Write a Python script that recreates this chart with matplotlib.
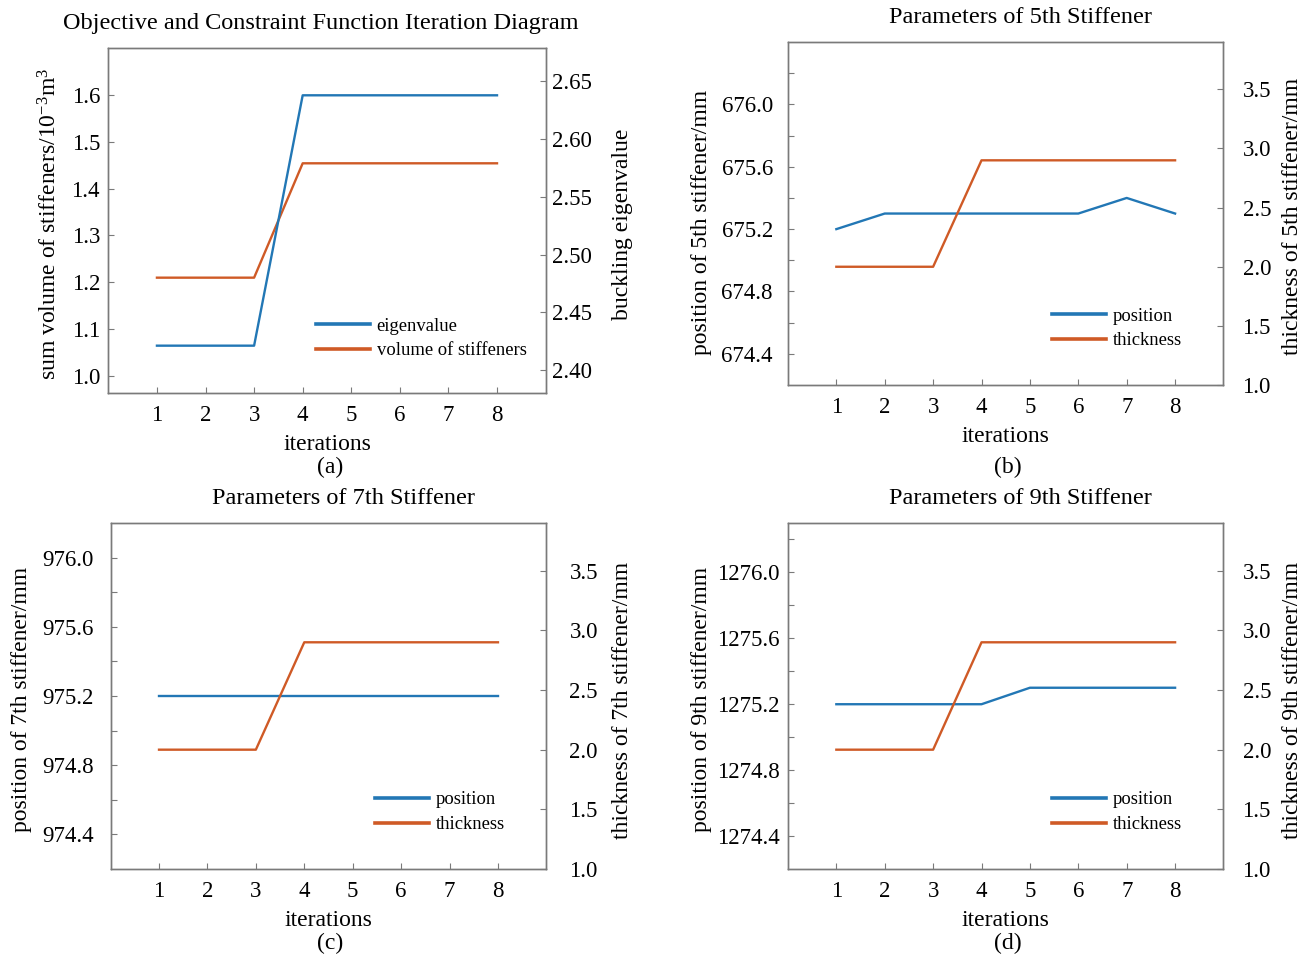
import matplotlib

matplotlib.use("Agg")
import matplotlib.pyplot as plt
from matplotlib.ticker import FixedLocator, FormatStrFormatter

plt.rcParams.update({
    "font.family": ["Liberation Serif", "DejaVu Serif"],
    "mathtext.fontset": "custom",
    "mathtext.rm": "Liberation Serif",
    "mathtext.it": "Liberation Serif:italic",
    "axes.unicode_minus": False,
})

# ---- data ----
iterations = [1, 2, 3, 4, 5, 6, 7, 8]

eigenvalue = [2.421, 2.421, 2.421, 2.638, 2.638, 2.638, 2.638, 2.638]
volume = [1.21, 1.21, 1.21, 1.454, 1.454, 1.454, 1.454, 1.454]

pos5 = [675.2, 675.3, 675.3, 675.3, 675.3, 675.3, 675.4, 675.3]
thick5 = [2.0, 2.0, 2.0, 2.9, 2.9, 2.9, 2.9, 2.9]

pos7 = [975.2, 975.2, 975.2, 975.2, 975.2, 975.2, 975.2, 975.2]
thick7 = [2.0, 2.0, 2.0, 2.9, 2.9, 2.9, 2.9, 2.9]

pos9 = [1275.2, 1275.2, 1275.2, 1275.2, 1275.3, 1275.3, 1275.3, 1275.3]
thick9 = [2.0, 2.0, 2.0, 2.9, 2.9, 2.9, 2.9, 2.9]

BLUE = "#2277b5"
ORANGE = "#cf5a26"
GRAY = "#7a7a7a"

TICK_FS = 16.5
LABEL_FS = 17
YLABEL_FS = 17
TITLE_FS = 17.5
LEG_FS = 13.4


def style_axes(ax, twin, lpad, rpad):
    for sp in list(ax.spines.values()) + list(twin.spines.values()):
        sp.set_color(GRAY)
        sp.set_linewidth(1.0)
    ax.tick_params(axis="both", which="both", direction="in", colors=GRAY,
                   labelcolor="black", labelsize=TICK_FS, length=4, width=0.8,
                   top=False, right=False)
    ax.tick_params(axis="x", pad=8.5)
    ax.tick_params(axis="y", pad=lpad)
    twin.tick_params(axis="y", which="both", direction="in", colors=GRAY,
                     labelcolor="black", labelsize=TICK_FS, length=4, width=0.8, pad=rpad)
    ax.set_xlim(0, 9)
    ax.set_xticks(iterations)
    ax.set_xlabel("iterations", fontsize=LABEL_FS, labelpad=6)


def add_legend(ax, handles, labels, x, y):
    leg = ax.legend(handles, labels, loc="center left", bbox_to_anchor=(x, y),
                    frameon=False, fontsize=LEG_FS, borderpad=0, borderaxespad=0,
                    handlelength=2.9, handletextpad=0.35, labelspacing=0.42)
    for line in leg.get_lines():
        line.set_linewidth(2.6)
    return leg


fig = plt.figure(figsize=(13.15, 9.58), dpi=100)

# ---- (a) objective and constraint ----
ax_a = fig.add_axes([0.0824, 0.5898, 0.3325, 0.3601])
tw_a = ax_a.twinx()
l_vol, = ax_a.plot(iterations, volume, color=ORANGE, lw=1.7)
l_eig, = tw_a.plot(iterations, eigenvalue, color=BLUE, lw=1.7)
ax_a.set_ylim(0.964, 1.70)
ax_a.set_yticks([1.0, 1.1, 1.2, 1.3, 1.4, 1.5, 1.6])
ax_a.yaxis.set_major_formatter(FormatStrFormatter("%.1f"))
tw_a.set_ylim(2.38, 2.679)
tw_a.set_yticks([2.40, 2.45, 2.50, 2.55, 2.60, 2.65])
tw_a.yaxis.set_major_formatter(FormatStrFormatter("%.2f"))
style_axes(ax_a, tw_a, 6, 4.3)
ax_a.set_ylabel(r"sum volume of stiffeners/10$^{-3}$m$^{3}$", fontsize=YLABEL_FS)
tw_a.set_ylabel("buckling eigenvalue", fontsize=YLABEL_FS)
ax_a.yaxis.set_label_coords(-0.108, 0.49)
tw_a.yaxis.set_label_coords(1.152, 0.49)
ax_a.set_title("Objective and Constraint Function Iteration Diagram",
               fontsize=TITLE_FS, pad=13.5, x=0.486)
add_legend(tw_a, [l_eig, l_vol], ["eigenvalue", "volume of stiffeners"], 0.475, 0.158)


def stiffener_panel(rect, pos, thick, ylim, major, minor, title, nth,
                    pads, lab_x, lab_y, leg_y):
    ax = fig.add_axes(rect)
    tw = ax.twinx()
    lp, = ax.plot(iterations, pos, color=BLUE, lw=1.7)
    lt, = tw.plot(iterations, thick, color=ORANGE, lw=1.7)
    ax.set_ylim(*ylim)
    ax.set_yticks(major)
    ax.yaxis.set_minor_locator(FixedLocator(minor))
    ax.yaxis.set_major_formatter(FormatStrFormatter("%.1f"))
    tw.set_ylim(1.0, 3.9)
    tw.set_yticks([1.0, 1.5, 2.0, 2.5, 3.0, 3.5])
    tw.yaxis.set_major_formatter(FormatStrFormatter("%.1f"))
    style_axes(ax, tw, *pads)
    ax.set_ylabel(f"position of {nth} stiffener/mm", fontsize=YLABEL_FS)
    tw.set_ylabel(f"thickness of {nth} stiffener/mm", fontsize=YLABEL_FS)
    ax.yaxis.set_label_coords(lab_x[0], lab_y[0])
    tw.yaxis.set_label_coords(lab_x[1], lab_y[1])
    ax.set_title(title, fontsize=TITLE_FS, pad=13.5, x=0.534)
    add_legend(tw, [lp, lt], ["position", "thickness"], 0.607, leg_y)
    return ax


stiffener_panel([0.5992, 0.5981, 0.3312, 0.3580], pos5, thick5, (674.2, 676.4),
                [674.4, 674.8, 675.2, 675.6, 676.0],
                [674.6, 675.0, 675.4, 675.8, 676.2],
                "Parameters of 5th Stiffener", "5th",
                (10.8, 13.7), (-0.1745, 1.135), (0.475, 0.493), 0.165)
stiffener_panel([0.0841, 0.0929, 0.3314, 0.3612], pos7, thick7, (974.2, 976.2),
                [974.4, 974.8, 975.2, 975.6, 976.0],
                [974.6, 975.0, 975.4, 975.8],
                "Parameters of 7th Stiffener", "7th",
                (12.2, 16.6), (-0.181, 1.1505), (0.49, 0.486), 0.164)
stiffener_panel([0.5992, 0.0929, 0.3312, 0.3612], pos9, thick9, (1274.2, 1276.3),
                [1274.4, 1274.8, 1275.2, 1275.6, 1276.0],
                [1274.6, 1275.0, 1275.4, 1275.8, 1276.2],
                "Parameters of 9th Stiffener", "9th",
                (5.8, 13.7), (-0.1745, 1.135), (0.49, 0.486), 0.164)

for lab, x, y in [("(a)", 330, 467), ("(b)", 1008, 467), ("(c)", 330, 943), ("(d)", 1008, 943)]:
    fig.text(x / 1315, 1 - y / 958, lab, ha="center", va="center", fontsize=LABEL_FS)

fig.savefig("out.png", dpi=100)
